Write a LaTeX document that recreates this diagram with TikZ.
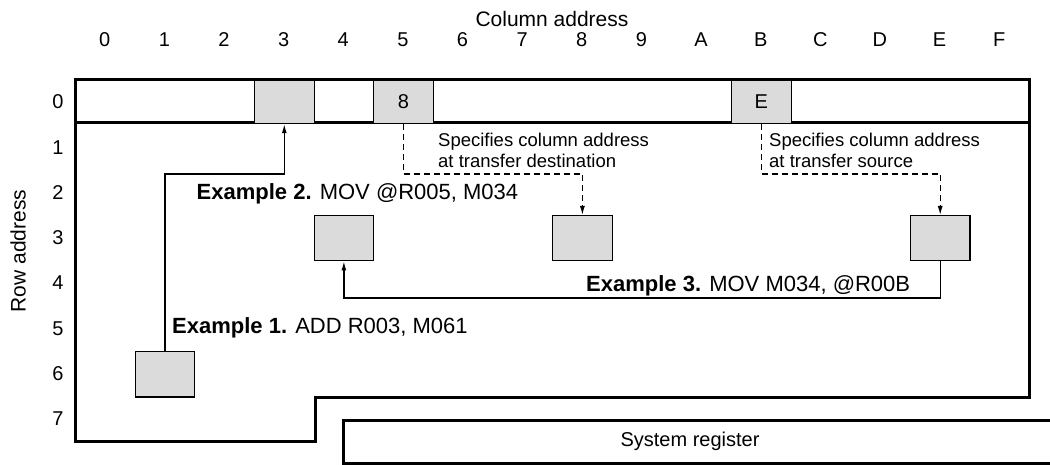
\documentclass[tikz,border=0pt]{standalone}
\usepackage{fontspec}
\setmainfont{Liberation Sans}
\usetikzlibrary{arrows.meta}
\begin{document}
\begin{tikzpicture}[x=1pt,y=-1pt,
  digit/.style={font=\fontsize{20}{23}\selectfont, inner sep=0},
  title/.style={font=\fontsize{21}{24}\selectfont, inner sep=0},
  ex/.style={font=\fontsize{22}{25}\selectfont, inner sep=0, anchor=base west},
  note/.style={font=\fontsize{18.5}{19}\selectfont, inner sep=0, anchor=base west, align=left},
  shade/.style={draw, line width=1.2pt, fill=gray!28, inner sep=0, anchor=north west, font=\fontsize{20}{23}\selectfont},
  cellz/.style={shade, minimum width=59.6pt, minimum height=43pt},
  cellm/.style={shade, minimum width=59.6pt, minimum height=45.3pt},
  outline/.style={line width=3pt, line join=miter},
  conn/.style={line width=1.2pt, -{Latex[length=9pt,width=5pt]}},
  dconn/.style={conn, dash pattern=on 6pt off 4pt}
]
\useasboundingbox (0,0) rectangle (1050,465);

% titles
\node[title, anchor=base] (coltitle) at (552,26.7) {Column address};
\node[title, rotate=90] (rowtitle) at (18,251) {Row address};

% column digits
\foreach \c/\t in {0/0,1/1,2/2,3/3,4/4,5/5,6/6,7/7,8/8,9/9,10/A,11/B,12/C,13/D,14/E,15/F}
  \node[digit, anchor=base] (col\c) at ({104.8+59.625*\c},47) {\t};
% row digits
\node[digit] (row0) at (58,101.5) {0};
\foreach \r in {1,...,7}
  \node[digit] (row\r) at (58,{101.8+45.33*\r}) {\r};

% outlines
\draw[outline] (75,80) rectangle (1029,123);
\draw[outline] (75,123) -- (75,441) -- (315,441) -- (315,397) -- (1029,397) -- (1029,123);
\draw[outline] (1056,420) -- (343,420) -- (343,463) -- (1056,463);
\node[digit] (sysreg) at (690,441) {System register};

% row 0 cells
\node[cellz] (c3) at (253.9,80) {};
\node[cellz] (c5) at (373.1,80) {8};
\node[cellz] (cB) at (730.9,80) {E};
% memory cells
\node[cellm] (m34) at (313.5,215) {};
\node[cellm] (m38) at (552,215) {};
\node[cellm] (m3E) at (909.8,215) {};
\node[cellm] (m61) at (134.6,351) {};

% helper coordinates
\coordinate (k1) at (0,174);
\coordinate (k3) at (0,298);

% Example 1
\draw[conn] (m61.north) |- (c3.south |- k1) -- (c3.south);
% dashed column specifications
\draw[dconn] (c5.south) |- (m38.north |- k1) -- (m38.north);
\draw[dconn] (cB.south) |- (m3E.north |- k1) -- (m3E.north);
% Example 3
\draw[conn] (m3E.south) |- (m34.south |- k3) -- (m34.south);

% labels
\node[ex] (ex1) at (172,333) {\textbf{Example 1.} ADD R003, M061};
\node[ex] (ex2) at (196.5,200) {\textbf{Example 2.} MOV @R005, M034};
\node[ex] (ex3) at (586,291) {\textbf{Example 3.} MOV M034, @R00B};
\node[note] (n1) at (438,167.5) {Specifies column address\\[1.5pt]at transfer destination};
\node[note] (n2) at (769,167.5) {Specifies column address\\[1.5pt]at transfer source};
\end{tikzpicture}
\end{document}
